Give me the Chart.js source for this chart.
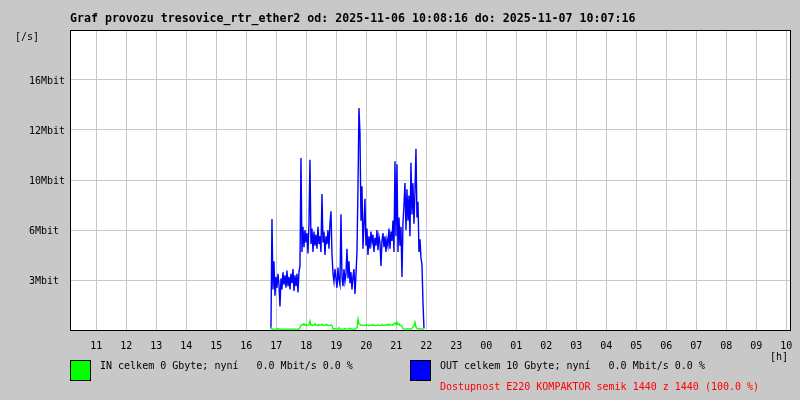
<!DOCTYPE html>
<html><head><meta charset="utf-8">
<script src="https://cdn.jsdelivr.net/npm/chart.js@4/dist/chart.umd.min.js"></script>
<style>html,body{margin:0;padding:0;background:#c8c8c8;}#wrap{width:800px;height:400px;position:relative;}</style>
</head><body><div id="wrap"><canvas id="c" width="800" height="400"></canvas></div>
<script>
const titleText = 'Graf provozu tresovice_rtr_ether2 od: 2025-11-06 10:08:16 do: 2025-11-07 10:07:16';
const hourTicks = [11,12,13,14,15,16,17,18,19,20,21,22,23,24,25,26,27,28,29,30,31,32,33,34];
const hourLabels = ['11','12','13','14','15','16','17','18','19','20','21','22','23','00','01','02','03','04','05','06','07','08','09','10'];
const yTicks = [3.2, 6.4, 9.6, 12.8, 16.0];
const yLabels = ['3Mbit', '6Mbit', '10Mbit', '12Mbit', '16Mbit'];
const yMax = 19.2;
const axisStart = 10 + 7/60 + 16/3600;   // 10:07:16
const axisHours = 24;
const sampleStart = 16.82;               // first sample (hours)
const sampleStep = 1/30;                 // 2 minutes per sample
const outValues = [
 0.1,7.1,2.6,4.4,2.2,3.4,2.7,3.6,2.9,1.5,
 3.3,2.6,3.7,2.9,3.5,2.7,3.8,2.8,3.4,2.6,
 3.6,3.0,3.9,2.5,3.5,2.8,3.6,2.4,3.7,4.1,
 11.0,5.0,6.6,5.3,6.4,5.6,6.2,4.9,6.8,10.9,
 5.5,6.5,5.0,6.3,5.4,6.1,5.2,6.6,5.5,6.0,
 5.0,8.7,5.6,6.3,4.8,6.0,5.5,6.4,5.2,6.8,
 7.6,4.9,3.6,3.1,3.9,3.3,2.7,4.0,3.2,2.9,
 7.4,3.4,2.8,3.9,3.1,3.6,5.2,3.3,4.4,3.0,
 3.7,2.6,3.4,3.9,2.3,3.5,5.0,9.0,14.2,12.6,
 7.0,9.2,5.2,6.8,8.4,5.4,6.5,4.8,6.0,5.2,
 6.3,5.6,6.1,5.0,5.9,5.4,6.4,5.1,6.0,5.6,
 4.1,5.7,6.2,5.3,6.0,5.0,5.8,5.4,6.5,5.2,
 6.3,5.7,7.0,5.0,10.8,6.0,10.6,5.0,7.2,5.4,
 6.6,3.4,6.8,8.0,9.4,6.4,9.0,7.0,8.6,6.0,
 10.7,7.4,9.4,6.8,8.8,11.6,7.2,8.2,5.0,5.8,
 4.6,4.2,1.8,0.1
];
const inValues = [
 0.2,0.06,0.06,0.06,0.06,0.06,0.06,0.1,0.06,0.06,
 0.06,0.06,0.06,0.06,0.06,0.06,0.06,0.06,0.06,0.06,
 0.06,0.06,0.06,0.06,0.06,0.06,0.06,0.06,0.06,0.15,
 0.3,0.35,0.3,0.4,0.3,0.35,0.3,0.28,0.35,0.58,
 0.3,0.35,0.28,0.3,0.4,0.3,0.32,0.28,0.35,0.3,
 0.3,0.38,0.3,0.28,0.32,0.3,0.35,0.3,0.28,0.3,
 0.35,0.3,0.06,0.06,0.1,0.06,0.06,0.06,0.15,0.06,
 0.06,0.06,0.06,0.06,0.1,0.06,0.06,0.06,0.06,0.12,
 0.06,0.06,0.06,0.06,0.06,0.1,0.15,0.7,0.4,0.35,
 0.3,0.32,0.3,0.28,0.3,0.35,0.3,0.3,0.28,0.32,
 0.3,0.3,0.35,0.3,0.28,0.3,0.3,0.32,0.3,0.28,
 0.3,0.35,0.3,0.3,0.32,0.3,0.35,0.3,0.38,0.3,
 0.32,0.35,0.3,0.4,0.45,0.35,0.5,0.35,0.4,0.3,
 0.3,0.25,0.08,0.06,0.06,0.06,0.06,0.1,0.06,0.06,
 0.06,0.12,0.2,0.25,0.5,0.2,0.1,0.06,0.06,0.1,
 0.06,0.06,0.06,0.06
];
const seriesNames = ['IN', 'OUT'];
const seriesColors = ['#00ff00', '#0000ff'];
const legendTexts = [
 'IN celkem 0 Gbyte; nyní   0.0 Mbit/s 0.0 %',
 'OUT celkem 10 Gbyte; nyní   0.0 Mbit/s 0.0 %'
];
const availabilityText = 'Dostupnost E220 KOMPAKTOR semik 1440 z 1440 (100.0 %)';
const yUnitText = '[/s]';
const xUnitText = '[h]';

const MONO = '"DejaVu Sans Mono", "Liberation Mono", monospace';
const toPoints = arr => arr.map((v, i) => ({x: sampleStart + i * sampleStep, y: v}));

const decor = {
  id: 'decor',
  beforeDraw(chart) {
    const ctx = chart.ctx, a = chart.chartArea;
    ctx.save();
    ctx.fillStyle = '#ffffff';
    ctx.fillRect(a.left, a.top, a.right - a.left, a.bottom - a.top);
    ctx.restore();
  },
  afterDraw(chart) {
    const ctx = chart.ctx, a = chart.chartArea;
    ctx.save();
    ctx.strokeStyle = '#000'; ctx.lineWidth = 1;
    ctx.strokeRect(Math.round(a.left) + 0.5, Math.round(a.top) + 0.5, Math.round(a.right - a.left), Math.round(a.bottom - a.top));
    ctx.fillStyle = '#000';
    ctx.textBaseline = 'middle'; ctx.textAlign = 'left';
    ctx.font = 'bold 11.6px ' + MONO;
    ctx.fillText(titleText, 70, 19);
    ctx.font = '10px ' + MONO;
    ctx.fillText(yUnitText, 15, 37);
    ctx.fillText(xUnitText, 770, 357);
    const boxes = [[70, 100], [410, 440]];
    for (let i = 0; i < 2; i++) {
      ctx.fillStyle = seriesColors[i];
      ctx.fillRect(boxes[i][0], 360, 20, 20);
      ctx.strokeStyle = '#000';
      ctx.strokeRect(boxes[i][0] + 0.5, 360.5, 20, 20);
      ctx.fillStyle = '#000';
      ctx.fillText(legendTexts[i], boxes[i][1], 366.5);
    }
    ctx.fillStyle = '#ff0000';
    ctx.fillText(availabilityText, 440, 387);
    ctx.restore();
  }
};

new Chart(document.getElementById('c'), {
  type: 'line',
  data: {
    datasets: [
      {label: seriesNames[0], data: toPoints(inValues), borderColor: seriesColors[0], borderWidth: 1.3, pointRadius: 0, tension: 0, fill: false},
      {label: seriesNames[1], data: toPoints(outValues), borderColor: seriesColors[1], borderWidth: 1.4, pointRadius: 0, tension: 0, fill: false}
    ]
  },
  options: {
    responsive: false, animation: false, devicePixelRatio: 1,
    layout: {padding: {left: 29, top: 30, right: 10, bottom: 0}},
    plugins: {legend: {display: false}, title: {display: false}, tooltip: {enabled: false}},
    scales: {
      x: {
        type: 'linear', min: axisStart, max: axisStart + axisHours,
        afterBuildTicks: s => { s.ticks = hourTicks.map(v => ({value: v})); },
        afterFit: s => { s.height = 70; s.paddingLeft = 0; s.paddingRight = 0; },
        grid: {color: '#c8c8c8', drawTicks: false, lineWidth: 1},
        border: {display: false},
        ticks: {autoSkip: false, maxRotation: 0, padding: 10, color: '#000', font: {family: MONO, size: 10},
                callback: (v, i) => hourLabels[i]}
      },
      y: {
        type: 'linear', min: 0, max: yMax,
        afterBuildTicks: s => { s.ticks = yTicks.map(v => ({value: v})); },
        afterFit: s => { s.width = 41; s.paddingTop = 0; s.paddingBottom = 0; },
        grid: {color: '#c8c8c8', drawTicks: false, lineWidth: 1},
        border: {display: false},
        ticks: {crossAlign: 'far', labelOffset: 1.5, color: '#000', font: {family: MONO, size: 10},
                callback: (v, i) => yLabels[i]}
      }
    }
  },
  plugins: [decor]
});
</script></body></html>
